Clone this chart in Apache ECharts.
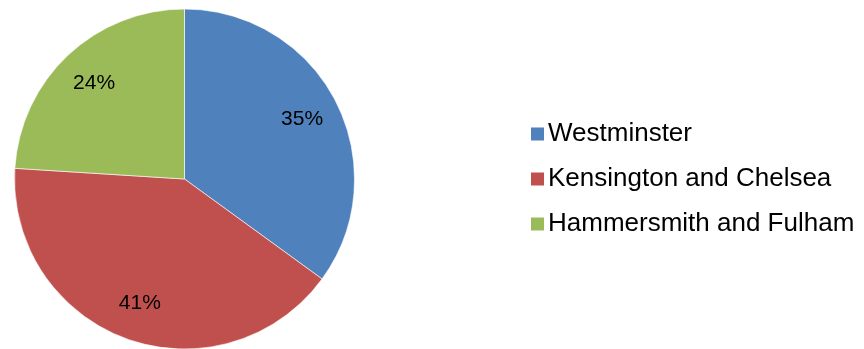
<!DOCTYPE html>
<html>
<head>
<meta charset="utf-8">
<script src="https://cdn.jsdelivr.net/npm/echarts@6/dist/echarts.min.js"></script>
<style>
  html, body { margin: 0; padding: 0; background: #fff; }
  #chart { width: 864px; height: 349px; }
</style>
</head>
<body>
<div id="chart"></div>
<script>
// Borough shares (percent)
const boroughs = ['Westminster', 'Kensington and Chelsea', 'Hammersmith and Fulham'];
const shares = [35, 41, 24];
const sliceColors = ['#4F81BD', '#C0504D', '#9BBB59'];

const pieData = boroughs.map((name, i) => ({
  name: name,
  value: shares[i],
  itemStyle: { color: sliceColors[i] }
}));

// same values, transparent fill, used only to place the labels
const labelData = boroughs.map((name, i) => ({
  name: name,
  value: shares[i],
  itemStyle: { color: 'rgba(0,0,0,0)' }
}));

const chart = echarts.init(document.getElementById('chart'), null, { renderer: 'canvas' });
const center = [184.5, 179];

chart.setOption({
  animation: false,
  backgroundColor: '#fff',
  legend: {
    orient: 'vertical',
    left: 524,
    top: 116,
    itemWidth: 15,
    itemHeight: 15,
    itemGap: 19,
    icon: 'rect',
    textStyle: {
      fontFamily: 'Liberation Sans, Arial, sans-serif',
      fontSize: 26,
      lineHeight: 26,
      color: '#000',
      padding: [0, 0, 0, -2]
    },
    data: boroughs
  },
  series: [
    {
      type: 'pie',
      center: center,
      radius: [0, 170],
      startAngle: 90,
      clockwise: true,
      silent: true,
      label: { show: false },
      labelLine: { show: false },
      itemStyle: { borderColor: '#fff', borderWidth: 0.6 },
      emphasis: { disabled: true },
      data: pieData
    },
    {
      type: 'pie',
      center: center,
      radius: [88, 170],
      startAngle: 90,
      clockwise: true,
      silent: true,
      legendHoverLink: false,
      emphasis: { disabled: true },
      label: {
        show: true,
        position: 'inside',
        fontFamily: 'Liberation Sans, Arial, sans-serif',
        fontSize: 21,
        color: '#000',
        formatter: p => Math.round(p.percent) + '%'
      },
      labelLine: { show: false },
      data: labelData
    }
  ]
});
</script>
</body>
</html>
